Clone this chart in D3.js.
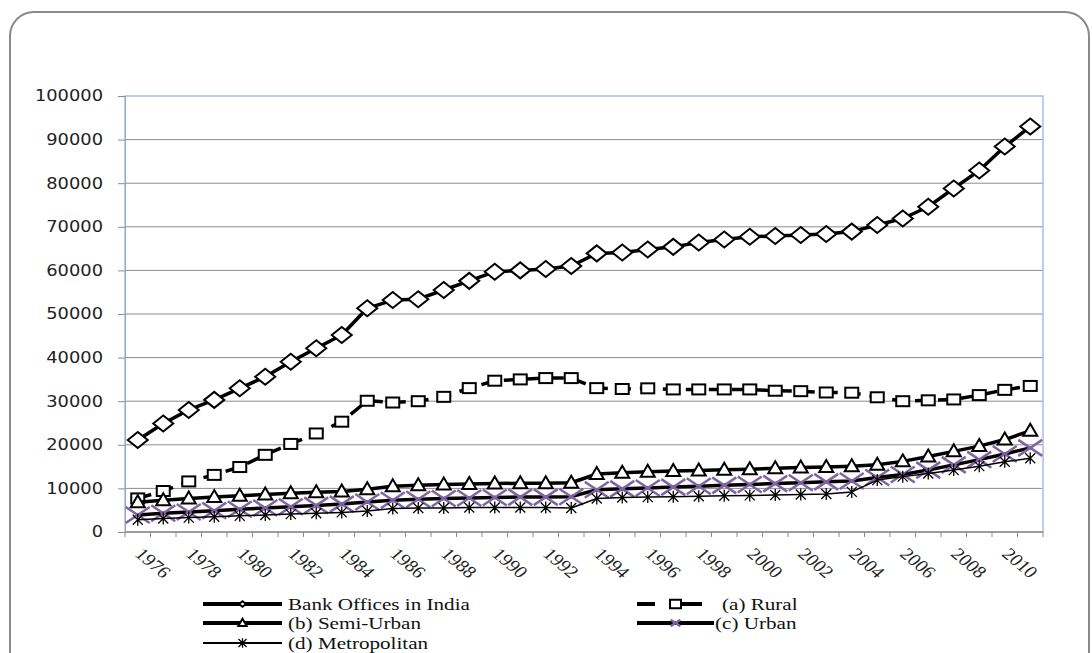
<!DOCTYPE html>
<html>
<head>
<meta charset="utf-8">
<script src="https://cdn.jsdelivr.net/npm/d3@7"></script>
<style>
  html, body { margin: 0; padding: 0; background: #ffffff; }
  svg { display: block; }
</style>
</head>
<body>
<div id="chart"></div>
<script>
// Data
const years = [1976, 1977, 1978, 1979, 1980, 1981, 1982, 1983, 1984, 1985, 1986, 1987,
               1988, 1989, 1990, 1991, 1992, 1993, 1994, 1995, 1996, 1997, 1998, 1999,
               2000, 2001, 2002, 2003, 2004, 2005, 2006, 2007, 2008, 2009, 2010, 2011];
const xTickLabels = ["1976", "1978", "1980", "1982", "1984", "1986", "1988", "1990", "1992",
                     "1994", "1996", "1998", "2000", "2002", "2004", "2006", "2008", "2010"];
const yTickValues = [0, 10000, 20000, 30000, 40000, 50000, 60000, 70000, 80000, 90000, 100000];

const bankOffices = [21100, 24900, 28000, 30300, 32950, 35600, 39060, 42130, 45180, 51300, 53200, 53400,
                     55500, 57600, 59700, 60000, 60300, 61000, 63900, 64100, 64800, 65400, 66400, 67100,
                     67700, 67900, 68100, 68350, 68900, 70400, 71900, 74600, 78800, 82900, 88400, 93000];
const rural = [7700, 9400, 11600, 13100, 14900, 17700, 20200, 22600, 25300, 30100, 29700, 30000,
               31000, 33000, 34700, 35000, 35300, 35300, 33000, 32800, 32950, 32700, 32700, 32700,
               32700, 32400, 32300, 32000, 31950, 30900, 30000, 30200, 30400, 31400, 32600, 33500];
const semiUrban = [6800, 7300, 7700, 8000, 8300, 8600, 8900, 9100, 9300, 9800, 10500, 10700,
                   10900, 11000, 11100, 11200, 11200, 11300, 13300, 13600, 13800, 14000, 14100, 14300,
                   14400, 14600, 14800, 14900, 15100, 15400, 16200, 17300, 18500, 19700, 21200, 23200];
const urban = [3900, 4300, 4600, 4900, 5200, 5500, 5800, 6100, 6400, 6900, 7300, 7500,
               7700, 7800, 7900, 8000, 8000, 8100, 9700, 9900, 10100, 10300, 10500, 10700,
               10900, 11100, 11300, 11500, 11700, 12500, 13200, 14200, 15400, 16600, 17900, 19300];
const metropolitan = [2800, 3100, 3300, 3500, 3700, 3900, 4100, 4300, 4500, 4800, 5400, 5500,
                      5500, 5600, 5600, 5600, 5600, 5500, 7700, 7900, 8000, 8100, 8200, 8300,
                      8400, 8500, 8600, 8700, 9200, 11900, 12700, 13400, 14200, 15100, 16100, 16900];

const width = 1092, height = 653;
const plot = { left: 125, right: 1043, top: 96, bottom: 532 };

const svg = d3.select("#chart").append("svg")
    .attr("width", width)
    .attr("height", height);

// outer rounded frame (runs off the bottom of the picture)
svg.append("rect")
    .attr("x", 10).attr("y", 12)
    .attr("width", 1079).attr("height", 700)
    .attr("rx", 24).attr("ry", 24)
    .attr("fill", "#ffffff")
    .attr("stroke", "#8a8a8a")
    .attr("stroke-width", 2);

const x = d3.scaleBand().domain(years).range([plot.left, plot.right]).padding(0);
const cx = d => x(d) + x.bandwidth() / 2;
const y = d3.scaleLinear().domain([0, 100000]).range([plot.bottom, plot.top]);

// gridlines
svg.append("g").selectAll("line")
    .data(yTickValues.filter(v => v > 0 && v < 100000))
    .join("line")
    .attr("x1", plot.left).attr("x2", plot.right)
    .attr("y1", d => y(d)).attr("y2", d => y(d))
    .attr("stroke", "#8c8c8c").attr("stroke-width", 1);

// plot area border (light blue)
svg.append("rect")
    .attr("x", plot.left).attr("y", plot.top)
    .attr("width", plot.right - plot.left).attr("height", plot.bottom - plot.top)
    .attr("fill", "none")
    .attr("stroke", "#a7bfe4").attr("stroke-width", 1.5);

// y axis
const yAxis = d3.axisLeft(y).tickValues(yTickValues).tickSize(7).tickFormat("");
const yAxisG = svg.append("g").attr("transform", `translate(${plot.left},0)`).call(yAxis);
yAxisG.select(".domain").attr("stroke", "#9aa9c4");
yAxisG.selectAll(".tick line").attr("stroke", "#8c8c8c");

svg.append("g").selectAll("text")
    .data(yTickValues)
    .join("text")
    .attr("transform", d => `translate(103,${y(d)}) scale(1.19,1)`)
    .attr("text-anchor", "end")
    .attr("dy", "0.36em")
    .style("font-family", "'DejaVu Sans', Verdana, sans-serif")
    .style("font-size", "15px")
    .style("fill", "#222")
    .text(d => d);

// x axis: ticks on category boundaries
const xAxisG = svg.append("g");
xAxisG.append("line")
    .attr("x1", plot.left).attr("x2", plot.right)
    .attr("y1", plot.bottom).attr("y2", plot.bottom)
    .attr("stroke", "#8c8c8c").attr("stroke-width", 1.5);
xAxisG.selectAll(".tk")
    .data(years.map(d => x(d)).concat([x.range()[1]]))
    .join("line")
    .attr("class", "tk")
    .attr("x1", d => d).attr("x2", d => d)
    .attr("y1", plot.bottom).attr("y2", plot.bottom + 5)
    .attr("stroke", "#8c8c8c").attr("stroke-width", 1);

xAxisG.selectAll("text")
    .data(xTickLabels)
    .join("text")
    .attr("transform", d => `translate(${cx(+d) - 4},${plot.bottom + 23}) scale(1.2,1) rotate(45)`)
    .attr("text-anchor", "start")
    .style("font-family", "'Liberation Serif', 'Times New Roman', serif")
    .style("font-size", "17px")
    .style("fill", "#222")
    .text(d => d);

// marker shapes
const markers = {
  diamond: (g, s) => g.append("path")
      .attr("d", `M${-10 * s},0 L0,${-8 * s} L${10 * s},0 L0,${8 * s} Z`)
      .attr("fill", "#fff").attr("stroke", "#000").attr("stroke-width", 2),
  square: (g, s) => g.append("rect")
      .attr("x", -6.5 * s).attr("y", -5 * s).attr("width", 13 * s).attr("height", 10 * s)
      .attr("fill", "#fff").attr("stroke", "#000").attr("stroke-width", 2),
  triangle: (g, s) => g.append("path")
      .attr("d", `M0,${-7 * s} L${7 * s},${5 * s} L${-7 * s},${5 * s} Z`)
      .attr("fill", "#fff").attr("stroke", "#000").attr("stroke-width", 2),
  cross: (g, s) => g.append("path")
      .attr("d", `M${-12 * s},${-8 * s} L${12 * s},${8 * s} M${-12 * s},${8 * s} L${12 * s},${-8 * s}`)
      .attr("fill", "none").attr("stroke", "#8064a2").attr("stroke-width", 2.5),
  star: (g, s) => g.append("path")
      .attr("d", `M${-5 * s},${-5 * s} L${5 * s},${5 * s} M${-5 * s},${5 * s} L${5 * s},${-5 * s} M0,${-6 * s} L0,${6 * s}`)
      .attr("fill", "none").attr("stroke", "#000").attr("stroke-width", 1.3)
};

const series = [
  { name: "Bank Offices in India", values: bankOffices, width: 3.5, dash: null, marker: "diamond" },
  { name: "(a) Rural", values: rural, width: 3.5, dash: "14,9", marker: "square" },
  { name: "(b) Semi-Urban", values: semiUrban, width: 3.5, dash: null, marker: "triangle" },
  { name: "(c) Urban", values: urban, width: 3.5, dash: null, marker: "cross" },
  { name: "(d) Metropolitan", values: metropolitan, width: 1.5, dash: null, marker: "star" }
];

const line = d3.line().x(d => cx(d.year)).y(d => y(d.value));

series.forEach(s => {
  const pts = years.map((yr, i) => ({ year: yr, value: s.values[i] }));
  const g = svg.append("g").attr("class", "series");
  g.append("path")
      .datum(pts)
      .attr("d", line)
      .attr("fill", "none")
      .attr("stroke", "#000")
      .attr("stroke-width", s.width)
      .attr("stroke-dasharray", s.dash)
      .attr("stroke-linejoin", "round");
  pts.forEach(p => {
    const mg = g.append("g").attr("transform", `translate(${cx(p.year)},${y(p.value)})`);
    markers[s.marker](mg, 1);
  });
});

// legend
const legendItems = [
  { s: series[0], x0: 203, x1: 282, tx: 288, row: 604 },
  { s: series[1], x0: 637, x1: 714, tx: 722, row: 604 },
  { s: series[2], x0: 203, x1: 282, tx: 288, row: 623 },
  { s: series[3], x0: 637, x1: 714, tx: 715, row: 623 },
  { s: series[4], x0: 203, x1: 282, tx: 288, row: 643 }
];
const legendMarkerScale = { diamond: 0.35, square: 0.85, triangle: 0.6, cross: 0.4, star: 0.8 };

legendItems.forEach(it => {
  const g = svg.append("g");
  g.append("line")
      .attr("x1", it.x0).attr("x2", it.x1)
      .attr("y1", it.row).attr("y2", it.row)
      .attr("stroke", "#000")
      .attr("stroke-width", it.s.width === 3.5 ? 4 : 1.8)
      .attr("stroke-dasharray", it.s.dash ? "18,17,30" : null);
  const mg = g.append("g").attr("transform", `translate(${(it.x0 + it.x1) / 2},${it.row})`);
  markers[it.s.marker](mg, legendMarkerScale[it.s.marker]);
  g.append("text")
      .attr("transform", `translate(${it.tx},${it.row}) scale(1.28,1)`)
      .attr("dy", "0.34em")
      .style("font-family", "'Liberation Serif', 'Times New Roman', serif")
      .style("font-size", "16.5px")
      .style("fill", "#111")
      .text(it.s.name);
});
</script>
</body>
</html>
